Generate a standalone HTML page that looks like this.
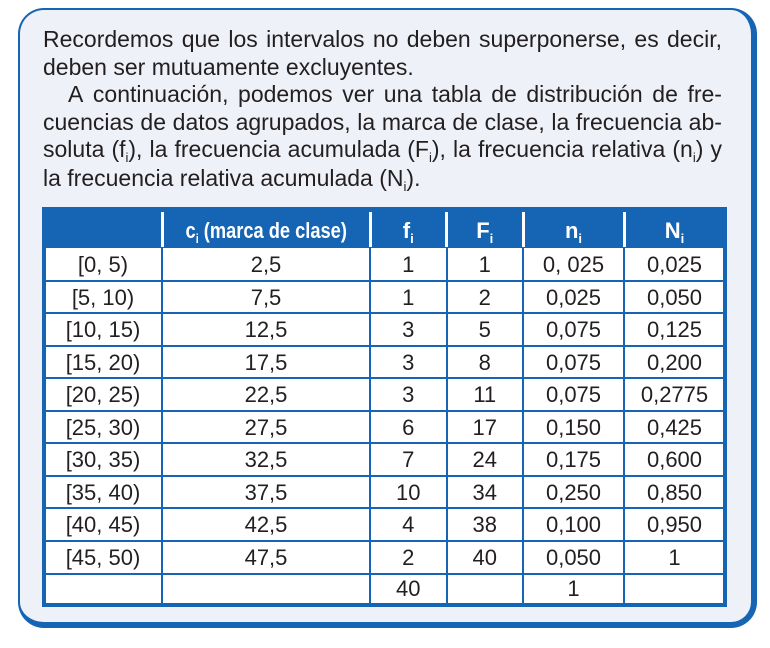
<!DOCTYPE html>
<html>
<head>
<meta charset="utf-8">
<style>
html,body{margin:0;padding:0;background:#fff;}
body{width:770px;height:648px;position:relative;overflow:hidden;font-family:"Liberation Sans",Arial,sans-serif;color:#231f20;}
.box{position:absolute;left:18px;top:8px;width:739px;height:620px;box-sizing:border-box;border-style:solid;border-color:#1565b4;border-width:2px 6px 6px 2px;border-radius:26px;background:#eef1f7;}
.ln{position:absolute;font-size:23px;line-height:28px;height:28px;white-space:nowrap;}
.j{display:flex;justify-content:space-between;}
.ln sub{font-size:13px;vertical-align:-5px;line-height:0;}
.b{position:absolute;background:#1565b4;}
.w{position:absolute;background:#fff;}
.row{position:absolute;left:44px;height:32.5px;display:flex;font-size:22px;line-height:32.5px;}
.row div{text-align:center;flex:none;}
.c1{width:118px}.c2{width:208px}.c3{width:76.5px}.c4{width:76.5px}.c5{width:101px}.c6{width:101px}
.hd{position:absolute;left:44px;top:210px;height:41px;display:flex;font-size:22px;line-height:41px;color:#fff;font-weight:bold;}
.hd div{text-align:center;flex:none;}
.hd sub{font-size:13px;vertical-align:-5px;line-height:0;font-weight:bold;}
.cond{display:inline-block;transform:scaleX(0.83);transform-origin:center;}
</style>
</head>
<body>
<div class="box"></div>

<div class="ln j" style="left:43px;top:25px;width:679px;"><span>Recordemos</span><span>que</span><span>los</span><span>intervalos</span><span>no</span><span>deben</span><span>superponerse,</span><span>es</span><span>decir,</span></div>
<div class="ln" style="left:43px;top:53px;">deben ser mutuamente excluyentes.</div>
<div class="ln j" style="left:68px;top:80px;width:654px;"><span>A</span><span>continuación,</span><span>podemos</span><span>ver</span><span>una</span><span>tabla</span><span>de</span><span>distribución</span><span>de</span><span>fre-</span></div>
<div class="ln j" style="left:43px;top:108px;width:679px;"><span>cuencias</span><span>de</span><span>datos</span><span>agrupados,</span><span>la</span><span>marca</span><span>de</span><span>clase,</span><span>la</span><span>frecuencia</span><span>ab-</span></div>
<div class="ln j" style="left:43px;top:135px;width:679px;"><span>soluta</span><span>(f<sub>i</sub>),</span><span>la</span><span>frecuencia</span><span>acumulada</span><span>(F<sub>i</sub>),</span><span>la</span><span>frecuencia</span><span>relativa</span><span>(n<sub>i</sub>)</span><span>y</span></div>
<div class="ln" style="left:43px;top:164px;">la frecuencia relativa acumulada (N<sub>i</sub>).</div>

<!-- table background -->
<div class="w" style="left:42px;top:207px;width:685px;height:400px;"></div>
<!-- header -->
<div class="b" style="left:42px;top:207px;width:685px;height:41px;"></div>
<!-- header separators -->
<div class="w" style="left:160.5px;top:212px;width:3px;height:35px;"></div>
<div class="w" style="left:368.5px;top:212px;width:3px;height:35px;"></div>
<div class="w" style="left:445px;top:212px;width:3px;height:35px;"></div>
<div class="w" style="left:521.5px;top:212px;width:3px;height:35px;"></div>
<div class="w" style="left:622.5px;top:212px;width:3px;height:35px;"></div>
<!-- outer borders -->
<div class="b" style="left:42px;top:207px;width:4px;height:400px;"></div>
<div class="b" style="left:723px;top:207px;width:4px;height:400px;"></div>
<div class="b" style="left:42px;top:603px;width:685px;height:4px;"></div>
<!-- horizontal lines -->
<div class="b" style="left:42px;top:279.5px;width:685px;height:2px;"></div>
<div class="b" style="left:42px;top:312px;width:685px;height:2px;"></div>
<div class="b" style="left:42px;top:344.5px;width:685px;height:2px;"></div>
<div class="b" style="left:42px;top:377px;width:685px;height:2px;"></div>
<div class="b" style="left:42px;top:409.5px;width:685px;height:2px;"></div>
<div class="b" style="left:42px;top:442px;width:685px;height:2px;"></div>
<div class="b" style="left:42px;top:474.5px;width:685px;height:2px;"></div>
<div class="b" style="left:42px;top:507px;width:685px;height:2px;"></div>
<div class="b" style="left:42px;top:539.5px;width:685px;height:2px;"></div>
<div class="b" style="left:42px;top:572.5px;width:685px;height:2px;"></div>
<!-- vertical lines -->
<div class="b" style="left:161px;top:248px;width:2px;height:356px;"></div>
<div class="b" style="left:369px;top:248px;width:2px;height:356px;"></div>
<div class="b" style="left:445.5px;top:248px;width:2px;height:356px;"></div>
<div class="b" style="left:522px;top:248px;width:2px;height:356px;"></div>
<div class="b" style="left:623px;top:248px;width:2px;height:356px;"></div>

<!-- header text -->
<div class="hd">
<div class="c1"></div>
<div class="c2"><span class="cond">c<sub>i</sub> (marca de clase)</span></div>
<div class="c3">f<sub>i</sub></div>
<div class="c4">F<sub>i</sub></div>
<div class="c5">n<sub>i</sub></div>
<div class="c6">N<sub>i</sub></div>
</div>

<div class="row" style="top:249px;"><div class="c1">[0, 5)</div><div class="c2">2,5</div><div class="c3">1</div><div class="c4">1</div><div class="c5">0, 025</div><div class="c6">0,025</div></div>
<div class="row" style="top:281.5px;"><div class="c1">[5, 10)</div><div class="c2">7,5</div><div class="c3">1</div><div class="c4">2</div><div class="c5">0,025</div><div class="c6">0,050</div></div>
<div class="row" style="top:314px;"><div class="c1">[10, 15)</div><div class="c2">12,5</div><div class="c3">3</div><div class="c4">5</div><div class="c5">0,075</div><div class="c6">0,125</div></div>
<div class="row" style="top:346.5px;"><div class="c1">[15, 20)</div><div class="c2">17,5</div><div class="c3">3</div><div class="c4">8</div><div class="c5">0,075</div><div class="c6">0,200</div></div>
<div class="row" style="top:379px;"><div class="c1">[20, 25)</div><div class="c2">22,5</div><div class="c3">3</div><div class="c4">11</div><div class="c5">0,075</div><div class="c6">0,2775</div></div>
<div class="row" style="top:411.5px;"><div class="c1">[25, 30)</div><div class="c2">27,5</div><div class="c3">6</div><div class="c4">17</div><div class="c5">0,150</div><div class="c6">0,425</div></div>
<div class="row" style="top:444px;"><div class="c1">[30, 35)</div><div class="c2">32,5</div><div class="c3">7</div><div class="c4">24</div><div class="c5">0,175</div><div class="c6">0,600</div></div>
<div class="row" style="top:476.5px;"><div class="c1">[35, 40)</div><div class="c2">37,5</div><div class="c3">10</div><div class="c4">34</div><div class="c5">0,250</div><div class="c6">0,850</div></div>
<div class="row" style="top:509px;"><div class="c1">[40, 45)</div><div class="c2">42,5</div><div class="c3">4</div><div class="c4">38</div><div class="c5">0,100</div><div class="c6">0,950</div></div>
<div class="row" style="top:541.5px;"><div class="c1">[45, 50)</div><div class="c2">47,5</div><div class="c3">2</div><div class="c4">40</div><div class="c5">0,050</div><div class="c6">1</div></div>
<div class="row" style="top:573.5px;height:30px;line-height:30px;"><div class="c1"></div><div class="c2"></div><div class="c3">40</div><div class="c4"></div><div class="c5">1</div><div class="c6"></div></div>
</body>
</html>
